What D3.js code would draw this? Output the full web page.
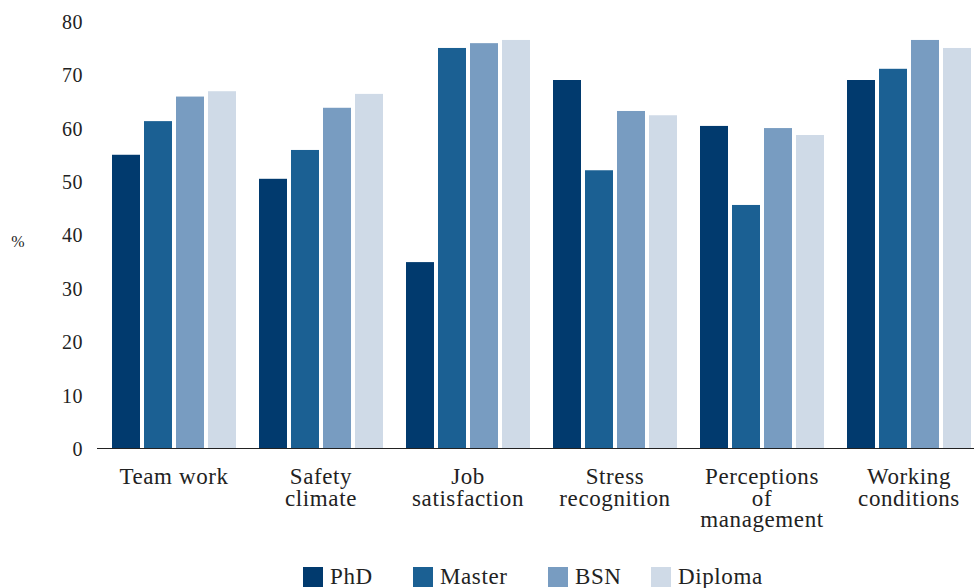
<!DOCTYPE html>
<html>
<head>
<meta charset="utf-8">
<script src="https://cdn.jsdelivr.net/npm/d3@7"></script>
<style>
  body { margin: 0; background: #fff; }
  text { font-family: "Liberation Serif", serif; fill: #222; }
</style>
</head>
<body>
<div class="canvas"></div>
<script>
const categories = [
  ['Team work'],
  ['Safety', 'climate'],
  ['Job', 'satisfaction'],
  ['Stress', 'recognition'],
  ['Perceptions', 'of', 'management'],
  ['Working', 'conditions']
];
const seriesNames = ['PhD', 'Master', 'BSN', 'Diploma'];
const seriesColors = ['#013a6e', '#1b6093', '#789cc1', '#cfdae7'];
const phd     = [55.1, 50.6, 35.0, 69.1, 60.5, 69.1];
const master  = [61.4, 56.0, 75.1, 52.2, 45.7, 71.2];
const bsn     = [66.0, 63.9, 76.0, 63.3, 60.1, 76.6];
const diploma = [67.0, 66.5, 76.6, 62.5, 58.8, 75.1];
const yTicks = [0, 10, 20, 30, 40, 50, 60, 70, 80];

const values = [phd, master, bsn, diploma];
const data = categories.map((c, i) => ({
  key: c.join(' '),
  lines: c,
  vals: seriesNames.map((s, j) => ({series: s, value: values[j][i]}))
}));

const svg = d3.select('.canvas')
  .append('svg')
  .attr('width', 974)
  .attr('height', 588);

const y = d3.scaleLinear()
  .domain([0, 80])
  .range([449, 21.8]);

const x0 = d3.scaleBand()
  .domain(data.map(d => d.key))
  .range([100.5, 982.5])
  .paddingInner(23 / 147)
  .paddingOuter(11.5 / 147);

const x1 = d3.scaleBand()
  .domain(seriesNames)
  .range([0, x0.bandwidth()])
  .paddingInner(0.125);

const color = d3.scaleOrdinal()
  .domain(seriesNames)
  .range(seriesColors);

// bars
const groups = svg.selectAll('g.group')
  .data(data)
  .enter()
  .append('g')
    .attr('class', 'group')
    .attr('transform', d => `translate(${x0(d.key)},0)`);

groups.selectAll('rect')
  .data(d => d.vals)
  .enter()
  .append('rect')
    .attr('x', d => x1(d.series))
    .attr('width', x1.bandwidth())
    .attr('y', d => y(d.value))
    .attr('height', d => y(0) - y(d.value))
    .attr('fill', d => color(d.series));

// y axis (labels only)
const yAxis = d3.axisLeft(y)
  .tickValues(yTicks)
  .tickSize(0)
  .tickPadding(0);

svg.append('g')
  .attr('transform', 'translate(83,0)')
  .call(yAxis)
  .call(g => g.select('.domain').remove())
  .selectAll('text')
    .attr('font-size', '20px')
    .attr('fill', '#222')
    .attr('letter-spacing', '0.5px')
    .style('font-family', '"Liberation Serif", serif');

svg.append('text')
  .attr('x', 18)
  .attr('y', 243)
  .attr('text-anchor', 'middle')
  .attr('dominant-baseline', 'middle')
  .attr('font-size', '16px')
  .text('%');

// x axis line
svg.append('line')
  .attr('x1', 97)
  .attr('x2', 974)
  .attr('y1', 448.5)
  .attr('y2', 448.5)
  .attr('stroke', '#222')
  .attr('stroke-width', 1.2);

// category labels
const labels = svg.selectAll('text.cat')
  .data(data)
  .enter()
  .append('text')
    .attr('class', 'cat')
    .attr('text-anchor', 'middle')
    .attr('font-size', '23px')
    .attr('letter-spacing', '0.6px')
    .attr('transform', d => `translate(${x0(d.key) + x0.bandwidth() / 2},484)`);

labels.selectAll('tspan')
  .data(d => d.lines)
  .enter()
  .append('tspan')
    .attr('x', 0)
    .attr('y', (d, i) => i * 21.5)
    .text(d => d);

// legend
const legendX = [303, 413, 548, 651];
const legend = svg.selectAll('g.legend')
  .data(seriesNames)
  .enter()
  .append('g')
    .attr('class', 'legend')
    .attr('transform', (d, i) => `translate(${legendX[i]},567)`);

legend.append('rect')
  .attr('width', 20)
  .attr('height', 20)
  .attr('fill', d => color(d));

legend.append('text')
  .attr('x', 27)
  .attr('y', 17)
  .attr('font-size', '23px')
  .attr('letter-spacing', '0.6px')
  .text(d => d);
</script>
</body>
</html>
